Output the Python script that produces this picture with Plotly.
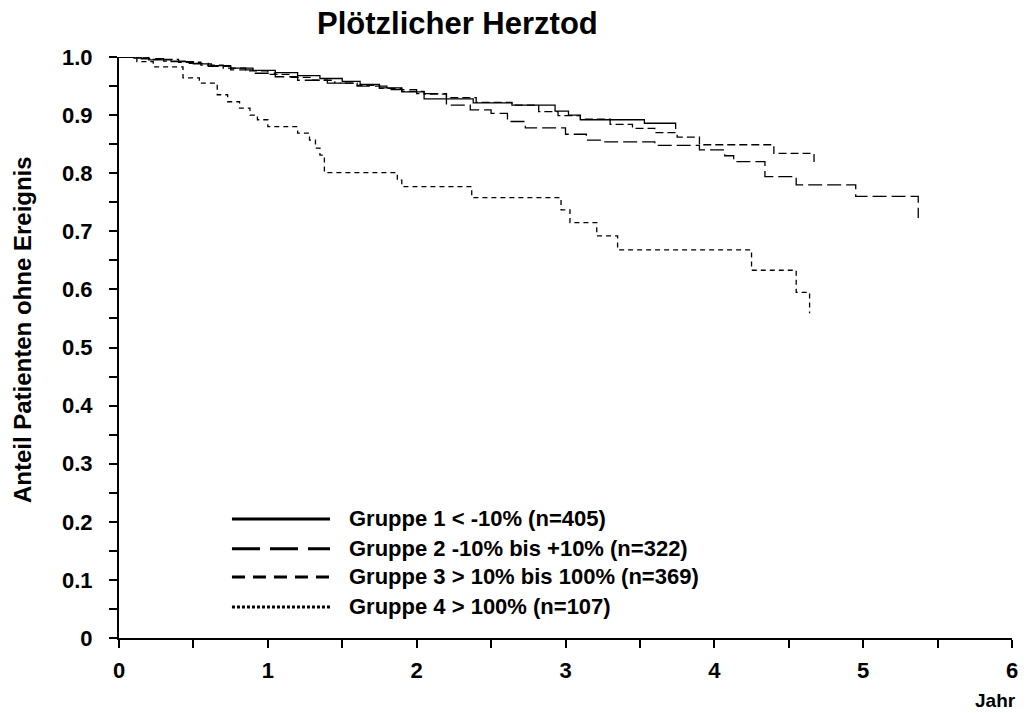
import plotly.graph_objects as go

# Kaplan-Meier step data: event times (years) and survival fraction after each step
t1 = [0, 0.1, 0.2, 0.35, 0.5, 0.62, 0.75, 0.9, 1.05, 1.2, 1.35, 1.5, 1.62, 1.75, 1.9,
      2.05, 2.38, 2.64, 2.93, 3.02, 3.10, 3.53, 3.74]
s1 = [1.0, 0.998, 0.995, 0.992, 0.988, 0.985, 0.981, 0.977, 0.973, 0.968, 0.963, 0.958,
      0.953, 0.947, 0.940, 0.928, 0.921, 0.917, 0.907, 0.900, 0.892, 0.886, 0.876]

t2 = [0, 0.15, 0.3, 0.45, 0.6, 0.75, 0.9, 1.05, 1.2, 1.4, 1.6, 1.8, 2.0, 2.2, 2.36, 2.5,
      2.61, 2.73, 3.0, 3.14, 3.25, 3.6, 3.9, 4.07, 4.13, 4.34, 4.55, 4.95, 5.37]
s2 = [1.0, 0.997, 0.993, 0.989, 0.984, 0.978, 0.972, 0.966, 0.960, 0.955, 0.950, 0.944,
      0.937, 0.917, 0.909, 0.903, 0.889, 0.878, 0.867, 0.857, 0.854, 0.848, 0.840, 0.830,
      0.820, 0.794, 0.780, 0.760, 0.723]

t3 = [0, 0.2, 0.4, 0.55, 0.7, 0.85, 1.0, 1.15, 1.3, 1.45, 1.6, 1.75, 1.9, 2.05, 2.2, 2.4,
      2.64, 2.82, 2.95, 3.1, 3.3, 3.45, 3.6, 3.75, 3.9, 4.40, 4.67]
s3 = [1.0, 0.996, 0.991, 0.986, 0.981, 0.976, 0.970, 0.965, 0.960, 0.955, 0.951, 0.946,
      0.941, 0.936, 0.930, 0.922, 0.917, 0.906, 0.899, 0.893, 0.884, 0.877, 0.870, 0.862,
      0.849, 0.834, 0.818]

t4 = [0, 0.12, 0.23, 0.43, 0.54, 0.66, 0.73, 0.81, 0.88, 0.93, 1.00, 1.20, 1.28, 1.32,
      1.35, 1.38, 1.87, 1.90, 2.37, 2.97, 3.03, 3.21, 3.35, 4.25, 4.55, 4.64]
s4 = [1.0, 0.992, 0.983, 0.964, 0.955, 0.935, 0.923, 0.912, 0.900, 0.892, 0.880, 0.869,
      0.857, 0.843, 0.831, 0.801, 0.788, 0.777, 0.758, 0.737, 0.715, 0.692, 0.668, 0.633,
      0.595, 0.559]

group_labels = [
    "Gruppe 1 < -10% (n=405)",
    "Gruppe 2 -10% bis +10% (n=322)",
    "Gruppe 3 > 10% bis 100% (n=369)",
    "Gruppe 4 > 100% (n=107)",
]

y_tick_vals = [0, 0.1, 0.2, 0.3, 0.4, 0.5, 0.6, 0.7, 0.8, 0.9, 1.0]
y_tick_text = ["0", "0.1", "0.2", "0.3", "0.4", "0.5", "0.6", "0.7", "0.8", "0.9", "1.0"]
x_tick_vals = [0, 1, 2, 3, 4, 5, 6]

FONT = "Liberation Sans, Arial, sans-serif"

series = [(t1, s1), (t2, s2), (t3, s3), (t4, s4)]
plot_dash = ["solid", "14px,5px", "8px,4px", "5px,4px"]
legend_dash = ["solid", "28px,10px", "13px,8px", "3px,2px"]

fig = go.Figure()
for (t, s), d, name in zip(series, plot_dash, group_labels):
    fig.add_trace(go.Scatter(
        x=t, y=s, mode="lines", line=dict(color="black", width=1.3, dash=d, shape="hv"),
        name=name, showlegend=False, hoverinfo="skip",
    ))

# Hand-drawn legend: long line samples with labels
legend_y = [0.205, 0.1535, 0.105, 0.0535]
for yy, d, name in zip(legend_y, legend_dash, group_labels):
    fig.add_shape(type="line", xref="paper", yref="paper", x0=0.1265, x1=0.2363, y0=yy, y1=yy,
                  line=dict(color="black", width=3, dash=d))
    fig.add_annotation(xref="paper", yref="paper", x=0.2553, y=yy, text=name, showarrow=False,
                       xanchor="left", yanchor="middle",
                       font=dict(family=FONT, size=22, color="black", weight="bold"))

fig.add_annotation(xref="paper", yref="paper", x=0.3785, y=1.057, text="Plötzlicher Herztod",
                   showarrow=False, xanchor="center", yanchor="middle",
                   font=dict(family=FONT, size=31, color="black", weight="bold"))
fig.add_annotation(xref="paper", yref="paper", x=-0.1086, y=0.53,
                   text="Anteil Patienten ohne Ereignis", textangle=-90, showarrow=False,
                   xanchor="center", yanchor="middle",
                   font=dict(family=FONT, size=24, color="black", weight="bold"))
fig.add_annotation(xref="paper", yref="paper", x=0.981, y=-0.107, text="Jahr",
                   showarrow=False, xanchor="center", yanchor="middle",
                   font=dict(family=FONT, size=19, color="black", weight="bold"))

fig.update_layout(
    width=1029, height=713,
    margin=dict(l=119, r=17, t=57, b=75),
    paper_bgcolor="white", plot_bgcolor="white",
    showlegend=False,
)
fig.update_xaxes(
    range=[0, 6], tickvals=x_tick_vals, ticks="outside", ticklen=8, tickwidth=1.5,
    tickcolor="black", showline=True, linecolor="black", linewidth=2, showgrid=False,
    zeroline=False, ticklabelstandoff=4,
    minor=dict(dtick=0.5, tick0=0, ticks="outside", ticklen=8, tickwidth=1.5, tickcolor="black",
               showgrid=False),
    tickfont=dict(family=FONT, size=22, color="black", weight="bold"),
)
fig.update_yaxes(
    range=[0, 1.0], tickvals=y_tick_vals, ticktext=y_tick_text, ticks="outside", ticklen=8,
    tickwidth=1.5, tickcolor="black", showline=True, linecolor="black", linewidth=2,
    showgrid=False, zeroline=False, ticklabelstandoff=12,
    minor=dict(dtick=0.05, tick0=0, ticks="outside", ticklen=8, tickwidth=1.5, tickcolor="black",
               showgrid=False),
    tickfont=dict(family=FONT, size=22, color="black", weight="bold"),
)

fig.write_html("out.html")
